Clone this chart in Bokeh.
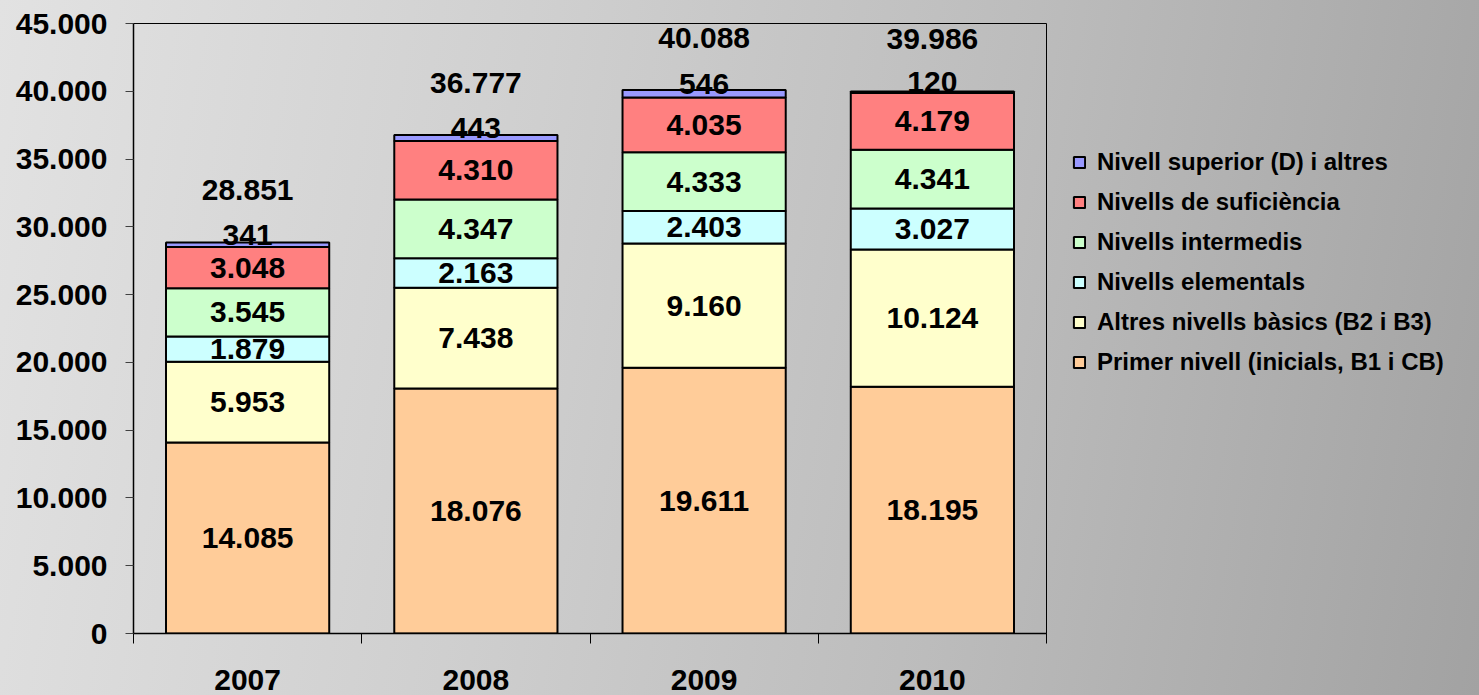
from bokeh.plotting import figure
from bokeh.models import (ColumnDataSource, FixedTicker, Legend, LegendItem,
                          GlobalInlineStyleSheet, Range1d)
from bokeh.core.properties import value
from bokeh.embed import file_html
from bokeh.resources import INLINE

# ---------------- data ----------------
years = ["2007", "2008", "2009", "2010"]
series = [
    "Primer nivell (inicials, B1 i CB)",
    "Altres nivells bàsics (B2 i B3)",
    "Nivells elementals",
    "Nivells intermedis",
    "Nivells de suficiència",
    "Nivell superior (D) i altres",
]
primer = [14085, 18076, 19611, 18195]
basics = [5953, 7438, 9160, 10124]
elementals = [1879, 2163, 2403, 3027]
intermedis = [3545, 4347, 4333, 4341]
suficiencia = [3048, 4310, 4035, 4179]
superior = [341, 443, 546, 120]
totals = [28851, 36777, 40088, 39986]
colors = ["#FFCC99", "#FFFFCC", "#CCFFFF", "#CCFFCC", "#FF8080", "#9999FF"]
y_ticks = [0, 5000, 10000, 15000, 20000, 25000, 30000, 35000, 40000, 45000]
y_tick_labels = ["0", "5.000", "10.000", "15.000", "20.000", "25.000",
                 "30.000", "35.000", "40.000", "45.000"]

values = [primer, basics, elementals, intermedis, suficiencia, superior]


def fmt(v):
    return f"{v:,}".replace(",", ".")


FONT = "Liberation Sans"
x_pos = [i + 0.5 for i in range(len(years))]
keys = [f"s{i}" for i in range(len(series))]
data = {"x": x_pos}
for k, v in zip(keys, values):
    data[k] = v
source = ColumnDataSource(data)

p = figure(frame_width=913, frame_height=610, output_backend="svg",
           toolbar_location=None,
           x_range=Range1d(0, len(years)), y_range=Range1d(0, 45000),
           min_border_left=133, min_border_right=0, min_border_top=23,
           min_border_bottom=62)
p.stylesheets = [GlobalInlineStyleSheet(css=(
    "html,body{margin:0;padding:0;overflow:hidden;"
    "background:linear-gradient(100deg,#e2e2e2 0%,#cfcfcf 35%,#bcbcbc 65%,#a2a2a2 100%);}"))]
p.border_fill_color = None
p.background_fill_color = None
p.outline_line_color = "black"
p.outline_line_width = 1
p.xgrid.visible = False
p.ygrid.visible = False

renderers = p.vbar_stack(keys, x="x", width=0.715, source=source,
                         fill_color=colors, line_color="black", line_width=2)

# segment labels
for i, k in enumerate(keys):
    lx, ly, lt = [], [], []
    for j in range(len(years)):
        base = sum(values[m][j] for m in range(i))
        lx.append(x_pos[j])
        ly.append(base + values[i][j] / 2)
        lt.append(fmt(values[i][j]))
    off = -10 if i == len(keys) - 1 else 0
    p.text(x=lx, y=ly, text=lt, text_align="center", text_baseline="middle",
           y_offset=off, text_font=value(FONT), text_font_style="bold",
           text_font_size="30px", text_color="black")

# totals
p.text(x=x_pos, y=totals, text=[fmt(t) for t in totals], text_align="center",
       text_baseline="middle", y_offset=-52, text_font=value(FONT),
       text_font_style="bold", text_font_size="30px", text_color="black")

# axes
p.yaxis.ticker = FixedTicker(ticks=y_ticks)
p.yaxis.major_label_overrides = {t: l for t, l in zip(y_ticks, y_tick_labels)}
p.yaxis.major_tick_out = 8
p.yaxis.major_tick_in = 0
p.yaxis.minor_tick_line_color = None
p.yaxis.major_tick_line_color = "#404040"
p.yaxis.axis_line_color = "black"
p.yaxis.axis_line_width = 1.5
p.yaxis.major_label_standoff = 18
p.yaxis.major_label_text_font = FONT
p.yaxis.major_label_text_font_style = "bold"
p.yaxis.major_label_text_font_size = "30px"
p.yaxis.major_label_text_color = "black"

p.xaxis.ticker = FixedTicker(ticks=x_pos, minor_ticks=list(range(len(years) + 1)))
p.xaxis.major_label_overrides = {x: y for x, y in zip(x_pos, years)}
p.xaxis.major_tick_out = 0
p.xaxis.major_tick_in = 0
p.xaxis.minor_tick_out = 10
p.xaxis.minor_tick_in = 0
p.xaxis.minor_tick_line_color = "black"
p.xaxis.axis_line_color = "black"
p.xaxis.axis_line_width = 1.5
p.xaxis.major_label_standoff = 26
p.xaxis.major_label_text_font = FONT
p.xaxis.major_label_text_font_style = "bold"
p.xaxis.major_label_text_font_size = "30px"
p.xaxis.major_label_text_color = "black"

# legend
items = [LegendItem(label=series[i], renderers=[renderers[i]])
         for i in reversed(range(len(series)))]
legend = Legend(items=items, location=(26, 257), padding=0, margin=0,
                border_line_color=None, background_fill_alpha=0,
                glyph_width=14, glyph_height=14, label_height=20,
                spacing=12, label_standoff=11,
                label_text_font=FONT, label_text_font_style="bold",
                label_text_font_size="24px", label_text_color="black")
p.add_layout(legend, "right")

open("out.html", "w").write(file_html(p, INLINE))
